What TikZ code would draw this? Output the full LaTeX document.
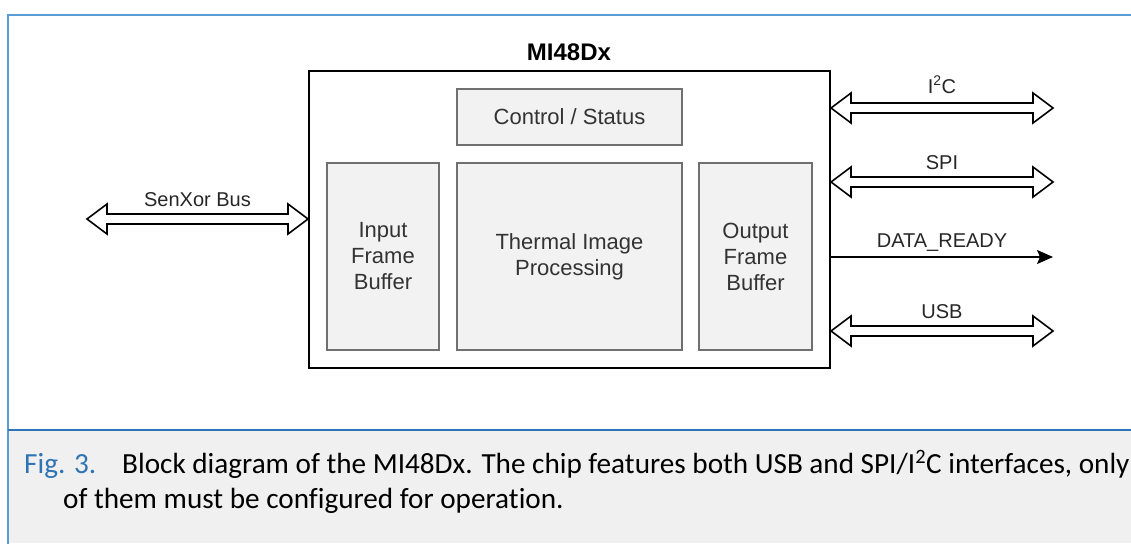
\documentclass[tikz,border=0pt]{standalone}
\usepackage{fontspec}
\setmainfont{Liberation Sans}
\newfontfamily\capfont[Ligatures={NoCommon}]{Carlito}
\usetikzlibrary{calc,arrows.meta}
\definecolor{frameblue}{HTML}{5B9BD5}
\definecolor{sepblue}{HTML}{2E75B6}
\definecolor{capbg}{HTML}{F0F0F0}
\definecolor{boxfill}{HTML}{F2F2F2}
\definecolor{boxline}{HTML}{707070}
\definecolor{figblue}{HTML}{2E74B5}
\definecolor{txtgray}{HTML}{333333}
\tikzset{
  chipbox/.style={draw=black, line width=2pt, fill=white, minimum width=521pt, minimum height=297pt, inner sep=0pt},
  blk/.style={draw=boxline, line width=1.5pt, fill=boxfill, inner sep=0pt, align=center, text=txtgray,
    font=\fontsize{22}{26}\selectfont},
  lbl/.style={anchor=base, inner sep=0pt, text=black!85, font=\fontsize{20}{24}\selectfont},
  hollow/.style={draw=black, line width=1.6pt, fill=white, line join=miter},
  sigarrow/.style={draw=black, line width=1.6pt, -{Stealth[length=16pt, width=14pt, inset=3pt]}},
  captext/.style={anchor=base west, inner sep=0pt, font=\capfont\fontsize{29.2}{35}\selectfont}
}
\newcommand\dblarr[2]{%
  \draw[hollow] (#1) -- ($(#1)+(20,-15)$) -- ($(#1)+(20,-5)$) -- ($(#2)+(-20,-5)$) -- ($(#2)+(-20,-15)$)
    -- (#2) -- ($(#2)+(-20,15)$) -- ($(#2)+(-20,5)$) -- ($(#1)+(20,5)$) -- ($(#1)+(20,15)$) -- cycle;}
\begin{document}
\begin{tikzpicture}[x=1pt,y=-1pt]
\useasboundingbox (0,0) rectangle (1131,543);
% frame and caption area
\fill[capbg] (8,430) rectangle (1131,543);
\draw[frameblue, line width=2pt] (1140,15) -- (8,15) -- (8,550);
\draw[sepblue, line width=1.5pt] (8,430) -- (1140,430);
% chip
\node[chipbox] (chip) at (569.5,219.5) {};
\node[anchor=base, inner sep=0pt, font=\bfseries\fontsize{24}{28}\selectfont] (title) at (569,60) {MI48Dx};
\node[blk, minimum width=225pt, minimum height=56pt] (ctrl) at (569.5,117) {Control / Status};
\node[blk, minimum width=112pt, minimum height=187pt] (inbuf) at (383,256.5) {Input\\Frame\\Buffer};
\node[blk, minimum width=225pt, minimum height=187pt] (proc) at (569.5,256.5) {Thermal Image\\Processing};
\node[blk, minimum width=113pt, minimum height=187pt] (outbuf) at (755.5,256.5) {Output\\Frame\\Buffer};
% connector ends
\coordinate (senL) at (87,219);
\coordinate (senR) at (chip.west |- senL);
\coordinate (i2cR) at (1053,108);
\coordinate (i2cL) at (chip.east |- i2cR);
\coordinate (spiR) at (1053,182);
\coordinate (spiL) at (chip.east |- spiR);
\coordinate (drR) at (1053,257);
\coordinate (drL) at (chip.east |- drR);
\coordinate (usbR) at (1053,331);
\coordinate (usbL) at (chip.east |- usbR);
% connectors
\dblarr{senL}{senR}
\dblarr{i2cL}{i2cR}
\dblarr{spiL}{spiR}
\dblarr{usbL}{usbR}
\draw[sigarrow] (drL) -- (drR);
% labels
\node[lbl] (senlbl) at ($(senL)!0.5!(senR)+(0,-13)$) {SenXor Bus};
\node[lbl] (i2clbl) at ($(i2cL)!0.5!(i2cR)+(0,-15)$) {I\textsuperscript{2}C};
\node[lbl] (spilbl) at ($(spiL)!0.5!(spiR)+(0,-13)$) {SPI};
\node[lbl] (drlbl) at ($(drL)!0.5!(drR)+(0,-10)$) {DATA\_READY};
\node[lbl] (usblbl) at ($(usbL)!0.5!(usbR)+(0,-13)$) {USB};
% caption
\node[captext] (fig) at (24,473) {\textcolor{figblue}{Fig. 3.}};
\node[captext] (cap1) at (122,473) {Block diagram of the MI48Dx. The chip features both USB and SPI/I\textsuperscript{2}C interfaces, only};
\node[captext] (cap2) at (63,508) {of them must be configured for operation.};
\end{tikzpicture}
\end{document}
